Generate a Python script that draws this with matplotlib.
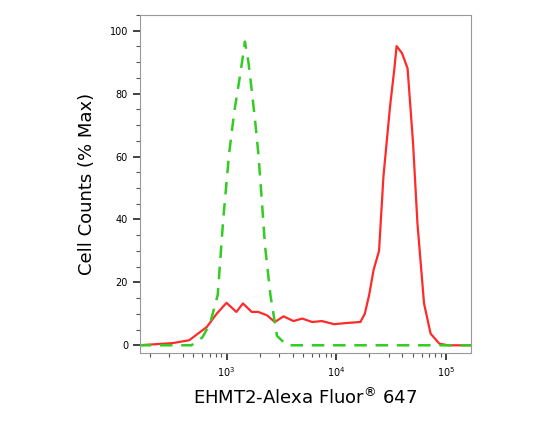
import numpy as np
import matplotlib.pyplot as plt
from matplotlib.ticker import LogLocator, NullFormatter, MultipleLocator

# log10 intensity, % max
green_x = [2.2, 2.68, 2.78, 2.85, 2.92, 2.97, 3.024, 3.07, 3.12, 3.15, 3.168, 3.2, 3.23, 3.26, 3.29,
           3.32, 3.35, 3.40, 3.46, 3.55, 4.0, 4.83, 5.23]
green_y = [0, 0, 2.5, 6.9, 16, 40, 61, 74, 85, 92, 96.5, 90, 81, 71.6, 61,
           47, 32, 16, 3, 0, 0, 0, 0]

red_x = [2.2, 2.51, 2.66, 2.82, 2.91, 3.0, 3.09, 3.15, 3.23, 3.29, 3.37, 3.44, 3.52, 3.61,
         3.69, 3.78, 3.87, 3.98, 4.10, 4.22, 4.26, 4.30, 4.34, 4.39, 4.43, 4.49, 4.53, 4.55,
         4.60, 4.65, 4.70, 4.74, 4.80, 4.86, 4.94, 5.02, 5.23]
red_y = [0, 0.7, 1.6, 5.8, 10, 13.5, 10.6, 13.3, 10.6, 10.6, 9.5, 7.4, 9.2, 7.7,
         8.5, 7.4, 7.7, 6.7, 7.1, 7.4, 10, 16, 23.9, 30, 53.6, 75.8, 88, 95.1,
         92.8, 88, 64.2, 38.7, 13.3, 3.7, 0.5, 0, 0]

fig = plt.figure(figsize=(5.57, 4.26), dpi=100)
ax = fig.add_axes([0.251, 0.171, 0.595, 0.794])

ax.plot(10 ** np.array(red_x), red_y, color="#ff2a2a", lw=1.6)
ax.plot(10 ** np.array(green_x), green_y, color="#33cc22", lw=1.8, ls=(0, (5, 3.5)))

ax.set_xscale("log")
ax.set_xlim(10 ** 2.21, 10 ** 5.23)
ax.set_ylim(-2.5, 105)
ax.xaxis.set_major_locator(LogLocator(base=10, numticks=10))
ax.xaxis.set_minor_locator(LogLocator(base=10, subs=np.arange(2, 10), numticks=20))
ax.xaxis.set_minor_formatter(NullFormatter())
ax.yaxis.set_major_locator(MultipleLocator(20))
ax.yaxis.set_minor_locator(MultipleLocator(5))

for s in ax.spines.values():
    s.set_color("#999999")
ax.tick_params(which="major", length=5, width=1.3, labelsize=7, color="#333333")
ax.tick_params(which="minor", length=3, width=0.8, color="#555555")

ax.set_ylabel("Cell Counts (% Max)", fontsize=13, labelpad=10)
ax.set_xlabel("EHMT2-Alexa Fluor$^{®}$ 647", fontsize=13, labelpad=6)

plt.savefig("out.png")
